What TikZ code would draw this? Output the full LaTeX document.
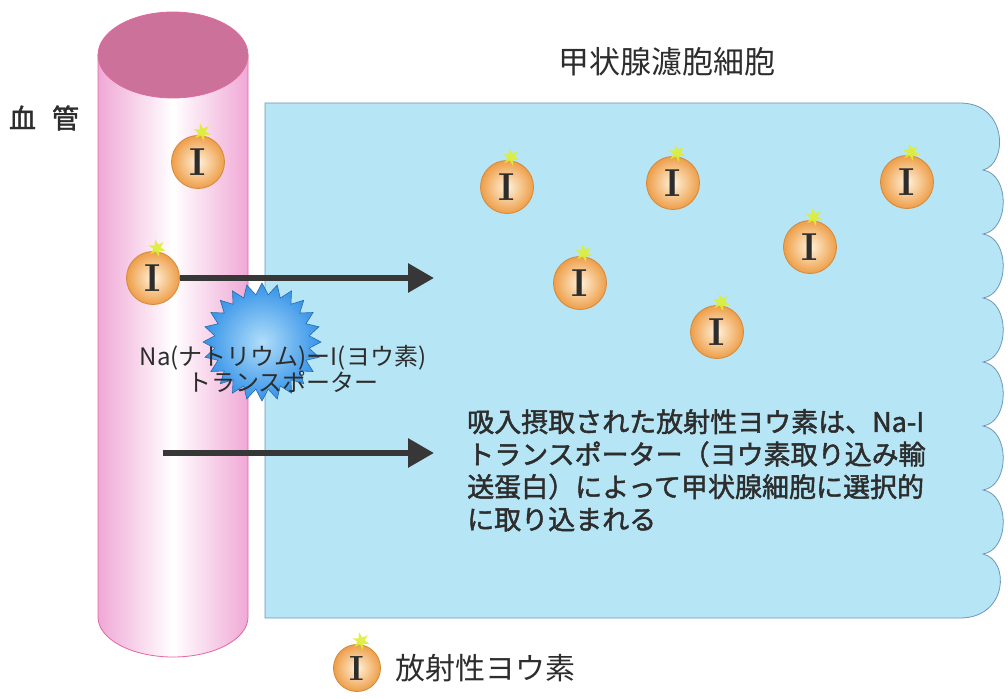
\documentclass[tikz,border=0pt]{standalone}
\usepackage{fontspec}
\newfontfamily\jpfont{Noto Sans CJK JP}
\newfontfamily\jpheavy[FakeBold=1.6]{Noto Sans CJK JP}
\usetikzlibrary{shapes.geometric, arrows.meta}
\usepackage{xcolor}
\definecolor{vessel_pink}{RGB}{240,168,214}
\definecolor{vessel_top}{RGB}{204,114,154}
\definecolor{vessel_line}{RGB}{226,104,160}
\definecolor{cell_blue}{RGB}{182,230,245}
\definecolor{cell_line}{RGB}{112,150,186}
\definecolor{iodine_orange}{RGB}{238,158,72}
\definecolor{iodine_light}{RGB}{255,242,220}
\definecolor{iodine_rim}{RGB}{212,136,60}
\definecolor{spark_yellow}{RGB}{222,238,50}
\definecolor{star_blue}{RGB}{52,146,232}
\definecolor{star_light}{RGB}{176,222,250}
\definecolor{arrow_gray}{RGB}{55,55,55}
\definecolor{text_gray}{RGB}{45,45,45}

\begin{document}
\begin{tikzpicture}[x=1pt, y=-1pt,
    iodine/.style={circle, draw=iodine_rim, line width=0.8pt,
      inner color=iodine_light, outer color=iodine_orange,
      minimum size=53pt, inner sep=0pt, text=text_gray,
      font=\fontsize{39}{39}\selectfont\bfseries,
      append after command={node[spark] at ([xshift=4pt, yshift=3pt]\tikzlastnode.north) {}}},
    spark/.style={star, star points=6, star point ratio=2.4, fill=spark_yellow, opacity=0.9,
      minimum size=18pt, inner sep=0pt, rotate=12},
    flow/.style={line width=6pt, arrow_gray, -{Triangle[length=26pt, width=28pt]}},
    jptext/.style={text=text_gray, inner sep=0pt}]

      % fondo y margenes
      \fill[white] (0,0) rectangle (1008,698);
      \useasboundingbox (0,0) rectangle (1008,698);

      % 1. Celula folicular (caja azul con borde ondulado a la derecha)
      \draw[cell_line, fill=cell_blue, line width=0.8pt]
        (265,103) -- (960,103) .. controls (1008,103) and (1008,164) .. (983,170)
        \foreach \y in {170,234,...,490} { .. controls (1010,\y+4) and (1010,\y+60) .. (983,\y+64) }
        .. controls (1010,560) and (1008,618) .. (960,618) -- (265,618) -- cycle;

      % 2. Vaso sanguineo (cilindro)
      \draw[vessel_line, line width=0.8pt, left color=vessel_pink, right color=vessel_pink, middle color=white]
        (98,55) -- (98,617) arc[start angle=180, end angle=0, x radius=75, y radius=40] -- (248,55) -- cycle;
      \draw[vessel_line, fill=vessel_top, line width=0.8pt] (173,55) ellipse[x radius=75, y radius=43];

      % 3. Flechas de transporte
      \node[iodine] (iv2) at (153,278) {I};
      \coordinate (tip1) at (434,278);
      \draw[flow] (iv2.east) -- (tip1);
      \coordinate (tail2) at (163,453);
      \coordinate (tip2) at (434,453);
      \draw[flow] (tail2) -- (tip2);

      % 4. Transportador Na-I
      \node[star, star points=24, star point ratio=1.24, minimum size=118pt, inner sep=0pt,
        draw=star_blue!75!black, line width=0.6pt, inner color=star_light, outer color=star_blue] (nis) at (262,342) {};
      \node[jptext, align=center, font=\jpfont\fontsize{24}{24}\selectfont] (nislabel) at (283,369) {
        Na(ナトリウム)ーI(ヨウ素)\\
        トランスポーター
      };

      % 5. Yodo radiactivo
      \node[iodine] (iv1) at (198,162) {I};
      \node[iodine] (ic1) at (507,187) {I};
      \node[iodine] (ic2) at (673,183) {I};
      \node[iodine] (ic3) at (907,182) {I};
      \node[iodine] (ic4) at (810,247) {I};
      \node[iodine] (ic5) at (580,283) {I};
      \node[iodine] (ic6) at (717,332) {I};

      % 6. Textos
      \node[jptext, font=\jpheavy\fontsize{27}{27}\selectfont] (vessel) at (44,118) {血\hspace{16pt}管};
      \node[jptext, font=\jpfont\fontsize{31}{31}\selectfont] (cell) at (667,62) {甲状腺濾胞細胞};
      \node[jptext, anchor=north west, align=left, font=\jpheavy\fontsize{27}{32.5}\selectfont] (caption) at (467,409) {
        吸入摂取された放射性ヨウ素は、Na-I\\
        トランスポーター（ヨウ素取り込み輸\\
        送蛋白）によって甲状腺細胞に選択的\\
        に取り込まれる
      };

      % 7. Leyenda
      \node[iodine, minimum size=47pt, font=\fontsize{35}{35}\selectfont\bfseries] (legend) at (357,668) {I};
      \node[jptext, anchor=west, font=\jpfont\fontsize{30}{30}\selectfont] (legendtext) at (395,668) {放射性ヨウ素};

    \end{tikzpicture}
\end{document}
